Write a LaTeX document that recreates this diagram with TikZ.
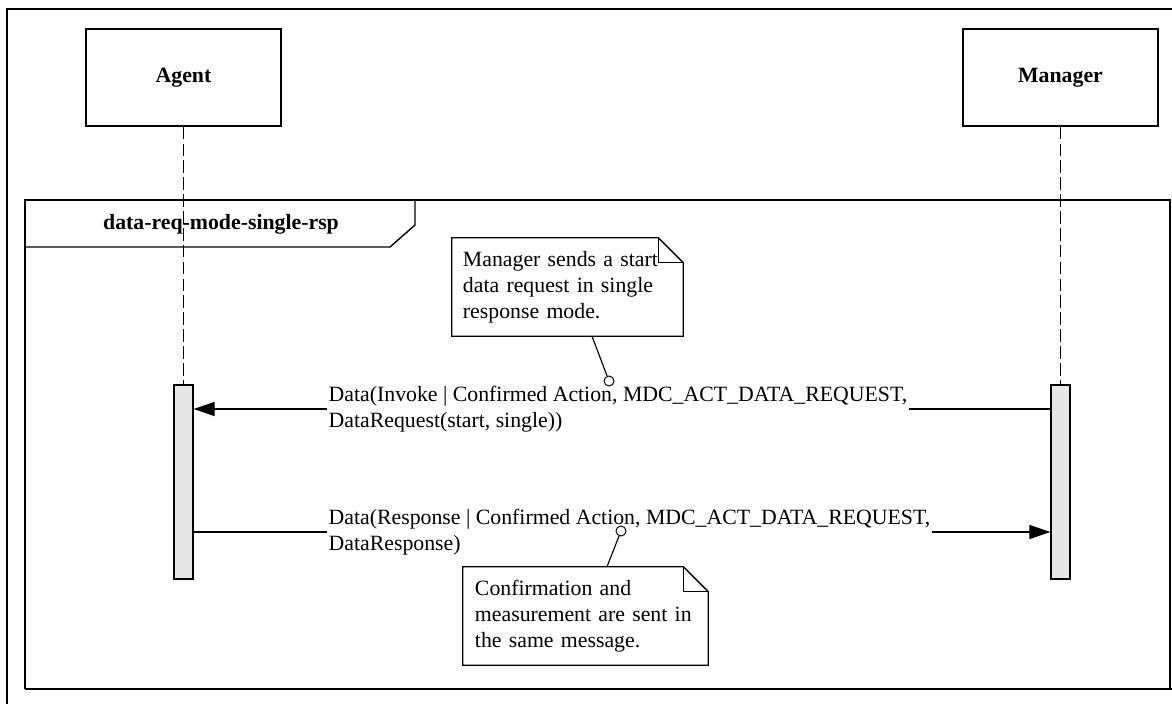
\documentclass[tikz,border=0pt]{standalone}
\usepackage{fontspec}
\setmainfont{Liberation Serif}
\usepackage{xcolor}
\usepackage{tikz}
\definecolor{barfill}{HTML}{E6E6E6}
\usetikzlibrary{arrows.meta, positioning, calc}

\begin{document}
\begin{tikzpicture}[x=0.025cm, y=-0.025cm,
  every node/.style={font=\fontsize{15.5}{18.5}\selectfont},
  lifebox/.style={draw, line width=1pt, minimum width=4.875cm, minimum height=2.425cm, font=\fontsize{15.5}{18.5}\selectfont\bfseries},
  actbar/.style={draw, fill=barfill, line width=0.9pt, minimum width=0.475cm, minimum height=4.85cm, inner sep=0pt},
  msglabel/.style={fill=white, align=left, inner sep=1pt, anchor=west},
  notebox/.style={align=left, minimum height=2.45cm, inner ysep=0pt},
  anchorpt/.style={circle, draw, fill=white, line width=0.7pt, minimum size=0.25cm, inner sep=0pt},
  msg/.style={line width=1pt, -{Triangle[length=15pt, width=10pt]}},
  lifeline/.style={line width=1.1pt, dash pattern=on 9pt off 3pt}]
\useasboundingbox (0,0) rectangle (1172,704);

% outer frame, cut by the page
\draw[line width=2pt] (7,704) -- (7,9) -- (1172,9);

% combined fragment
\draw[line width=1pt] (25,689) -- (25,200) -- (1170,200) -- (1170,689);
\draw[line width=2pt] (25,689) -- (1172,689);
\draw[line width=1pt] (25,247) -- (390,247) -- (415,225) -- (415,200);
\node[font=\fontsize{15.5}{18.5}\selectfont\bfseries] (frag) at (221,224) {data-req-mode-single-rsp};

% lifelines
\node[lifebox] (agent) at (183.5,77.5) {Agent};
\node[lifebox] (manager) at (1060.5,77.5) {Manager};
\node[actbar] (agentbar) at (183.5,482) {};
\node[actbar] (mgrbar) at (1060.5,482) {};
\draw[lifeline] (agent.south) -- (agentbar.north);
\draw[lifeline] (manager.south) -- (mgrbar.north);

% messages
\node[msglabel] (req) at (327,409) {Data(Invoke | Confirmed Action, MDC\_ACT\_DATA\_REQUEST,\\DataRequest(start, single))};
\draw[line width=1pt] (mgrbar.west |- req) -- (req.east);
\draw[msg] (req.west) -- (agentbar.east |- req);

\node[msglabel] (rsp) at (327,532) {Data(Response | Confirmed Action, MDC\_ACT\_DATA\_REQUEST,\\DataResponse)};
\draw[line width=1pt] (agentbar.east |- rsp) -- (rsp.west);
\draw[msg] (rsp.east) -- (mgrbar.west |- rsp);

% notes
\node[notebox, text width=5.225cm, inner xsep=0.275cm] (noteA) at (567.5,287) {Manager sends a start\\data request in single\\response mode.};
\node[notebox, text width=5.525cm, inner xsep=0.3cm] (noteB) at (585.5,616) {Confirmation and\\measurement are sent in\\the same message.};
\foreach \n in {noteA,noteB} {
  \draw[line width=0.9pt] (\n.south west) -- (\n.north west) -- ($(\n.north east)+(-25,0)$)
    -- ($(\n.north east)+(0,25)$) -- (\n.south east) -- cycle;
  \draw[line width=0.9pt] ($(\n.north east)+(-25,0)$) |- ($(\n.north east)+(0,25)$);
}
\node[anchorpt] (pinA) at (609,381) {};
\node[anchorpt] (pinB) at (621,531) {};
\draw[line width=0.8pt] ($(noteA.south)+(24.5,0)$) -- (pinA);
\draw[line width=0.8pt] ($(noteB.north)+(21.5,0)$) -- (pinB);
\end{tikzpicture}
\end{document}
